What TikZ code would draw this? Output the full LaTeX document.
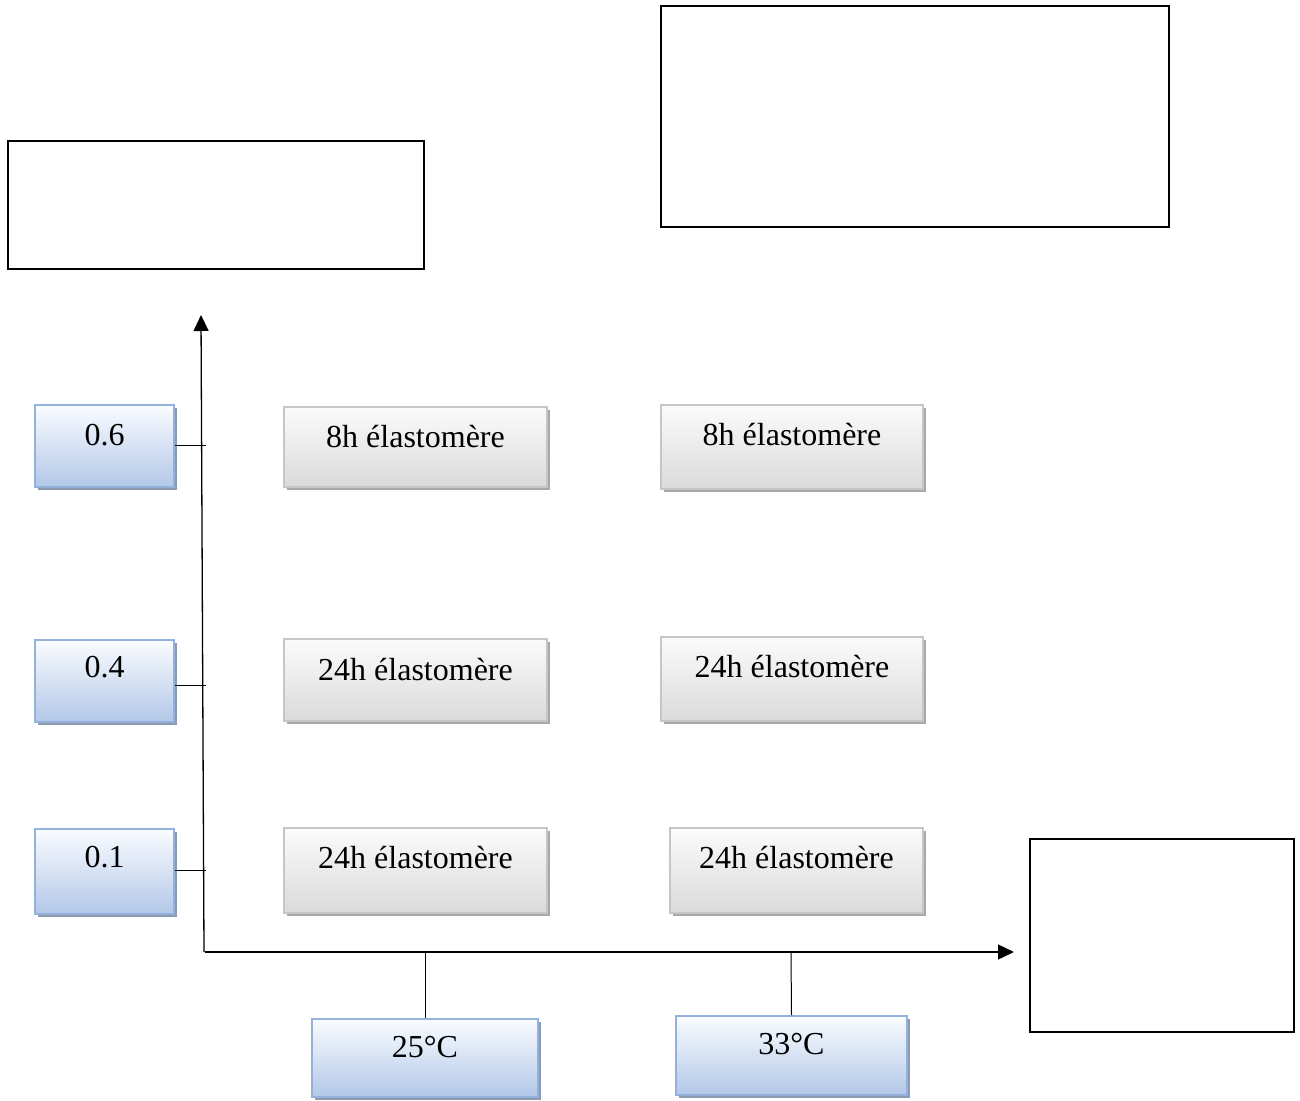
\documentclass[tikz,border=0pt]{standalone}
\usepackage{fontspec}
\setmainfont{Liberation Serif}
\usetikzlibrary{arrows.meta,shadows}
\definecolor{blueTop}{HTML}{FAFCFF}
\definecolor{blueBot}{HTML}{B2C7E8}
\definecolor{blueEdge}{HTML}{93B1DB}
\definecolor{blueShade}{HTML}{8D9BB0}
\definecolor{grayTop}{HTML}{FBFBFB}
\definecolor{grayBot}{HTML}{DADADA}
\definecolor{grayEdge}{HTML}{C6C6C6}
\definecolor{grayShade}{HTML}{A8A8A8}
\begin{document}
\begin{tikzpicture}[x=1pt,y=-1pt,
  bluebox/.style={rectangle, draw=blueEdge, line width=1.6pt,
    top color=blueTop, bottom color=blueBot, inner sep=0pt,
    copy shadow={shadow xshift=3pt, shadow yshift=-3pt, fill=blueShade, draw=none}},
  graybox/.style={rectangle, draw=grayEdge, line width=1.6pt,
    top color=grayTop, bottom color=grayBot, inner sep=0pt,
    copy shadow={shadow xshift=3pt, shadow yshift=-3pt, fill=grayShade, draw=none}},
  emptybox/.style={rectangle, draw=black, line width=2pt, inner sep=0pt},
  txt/.style={inner sep=0pt, font=\fontsize{32}{38}\selectfont},
  axis/.style={line width=1.3pt, -{Triangle[length=16pt,width=15pt]}},
  tick/.style={line width=1pt}
]
\useasboundingbox (0,0) rectangle (1300,1100);

% empty frames
\node[emptybox, minimum width=416, minimum height=128] (frameA) at (216,205) {};
\node[emptybox, minimum width=508, minimum height=221] (frameB) at (915,116.5) {};
\node[emptybox, minimum width=264, minimum height=193] (frameC) at (1162,935.5) {};

% axes
\coordinate (origin) at (204,952);
\coordinate (ytop) at (201,315);
\coordinate (xend) at (1014,952);
\draw[axis] (origin) -- (ytop);
\draw[axis] (205,952) coordinate (xstart) -- (xend);

% vertical axis values
\node[bluebox, minimum width=139, minimum height=82] (v06) at (104.5,446) {};
\node[bluebox, minimum width=139, minimum height=82] (v04) at (104.5,681) {};
\node[bluebox, minimum width=139, minimum height=85] (v01) at (104.5,871.5) {};
\node[txt] (t06) at ([yshift=-31pt]v06.north) {0.6};
\node[txt] (t04) at ([yshift=-28pt]v04.north) {0.4};
\node[txt] (t01) at ([yshift=-29pt]v01.north) {0.1};

\coordinate (k06) at (206,445);
\coordinate (k04) at (206,685);
\coordinate (k01) at (206,870);
\draw[tick] (v06.east |- k06) -- (k06);
\draw[tick] (v04.east |- k04) -- (k04);
\draw[tick] (v01.east |- k01) -- (k01);

% horizontal axis values
\node[bluebox, minimum width=226, minimum height=78] (h25) at (425,1058) {};
\node[bluebox, minimum width=231, minimum height=79] (h33) at (791.5,1055.5) {};
\node[txt] (t25) at ([yshift=-29pt]h25.north) {25°C};
\node[txt] (t33) at ([yshift=-29pt]h33.north) {33°C};
\coordinate (k25) at (425,953);
\coordinate (k33) at (791,953);
\draw[tick] (k25) -- (h25.north);
\draw[tick] (k33) -- (h33.north);

% grid of results
\node[graybox, minimum width=263, minimum height=80] (c11) at (415.5,447) {};
\node[graybox, minimum width=262, minimum height=84] (c12) at (792,447) {};
\node[graybox, minimum width=263, minimum height=82] (c21) at (415.5,680) {};
\node[graybox, minimum width=262, minimum height=84] (c22) at (792,679) {};
\node[graybox, minimum width=263, minimum height=85] (c31) at (415.5,870.5) {};
\node[graybox, minimum width=253, minimum height=85] (c32) at (796.5,870.5) {};
\node[txt] (s11) at ([yshift=-30pt]c11.north) {8h élastomère};
\node[txt] (s12) at ([yshift=-30pt]c12.north) {8h élastomère};
\node[txt] (s21) at ([yshift=-31pt]c21.north) {24h élastomère};
\node[txt] (s22) at ([yshift=-30pt]c22.north) {24h élastomère};
\node[txt] (s31) at ([yshift=-30pt]c31.north) {24h élastomère};
\node[txt] (s32) at ([yshift=-30pt]c32.north) {24h élastomère};
\end{tikzpicture}
\end{document}
